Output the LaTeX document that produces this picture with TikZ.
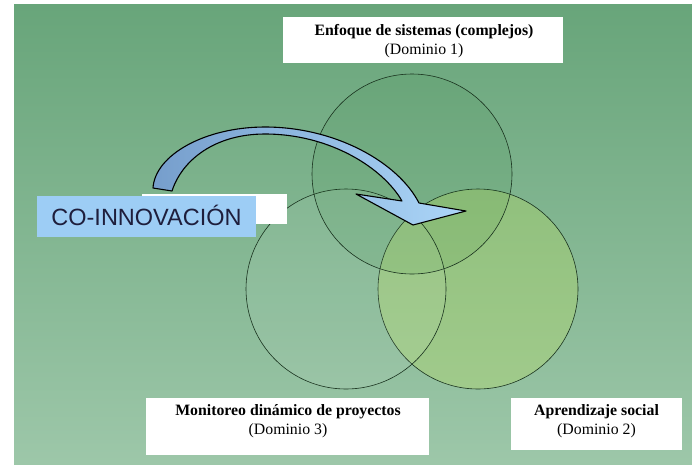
\documentclass[tikz,border=0pt]{standalone}
\usepackage{fontspec}
\setmainfont{Liberation Serif}
\newfontfamily\arialfont{Liberation Sans}
\usetikzlibrary{positioning}

\definecolor{bgtop}{RGB}{104,165,122}
\definecolor{bgbottom}{RGB}{157,199,169}
\definecolor{arrowdark}{RGB}{118,158,204}
\definecolor{arrowlight}{RGB}{172,214,248}
\definecolor{labelblue}{RGB}{157,205,245}
\definecolor{navy}{RGB}{30,30,60}
\definecolor{ringline}{RGB}{25,50,30}
\definecolor{lime}{RGB}{190,225,90}

\tikzset{
  labelbox/.style={fill=white, inner sep=0},
  domainlabel/.style={align=center, inner sep=0, font=\fontsize{15.8}{19.5}\selectfont},
  ring/.style={circle, draw=ringline, line width=.6pt, minimum size=200pt, inner sep=0},
}

\begin{document}
\begin{tikzpicture}[x=1pt, y=-1pt]

\useasboundingbox (0,0) rectangle (692,464);
\fill[white] (0,0) rectangle (692,464);
\shade[top color=bgtop, bottom color=bgbottom] (14,4) rectangle (692,464);

\node [ring, fill=lime, fill opacity=.3] (social) at (478,289) {};
\node [ring, fill=white, fill opacity=.06] (monitoreo) at (346,289) {};
\node [ring, fill=green!40!black, fill opacity=.06] (sistemas) at (412,174) {};

\node [labelbox, minimum width=280pt, minimum height=46pt] (d1box) at (423,40) {};
\node [domainlabel] (d1) at (424,41) {\textbf{Enfoque de sistemas (complejos)}\\(Dominio 1)};

\node [labelbox, minimum width=283pt, minimum height=57pt] (d3box) at (287.5,426.5) {};
\node [domainlabel] (d3) at (288,421) {\textbf{Monitoreo dinámico de proyectos}\\(Dominio 3)};

\node [labelbox, minimum width=171pt, minimum height=52pt] (d2box) at (596.5,424) {};
\node [domainlabel] (d2) at (596.5,421) {\textbf{Aprendizaje social}\\(Dominio 2)};

\node [labelbox, minimum width=145pt, minimum height=30pt] (coback) at (214.5,209) {};
\node [fill=labelblue, minimum width=219pt, minimum height=41pt, inner sep=0,
       text height=17pt, text depth=0pt, text=navy,
       font=\arialfont\fontsize{23.5}{23.5}\selectfont] (coinno) at (146.5,216.5) {CO-INNOVACIÓN};

\draw [line width=1.1pt, line join=round, left color=arrowdark, right color=arrowlight]
  (153,188) .. controls (155,155) and (205,127) .. (265,127)
  .. controls (335,127) and (398,162) .. (419,203)
  -- (466,211) -- (413,225) -- (356,194) -- (402,201)
  .. controls (383,168) and (330,134) .. (265,134)
  .. controls (215,134) and (182,160) .. (172,191) -- cycle;

\end{tikzpicture}
\end{document}
